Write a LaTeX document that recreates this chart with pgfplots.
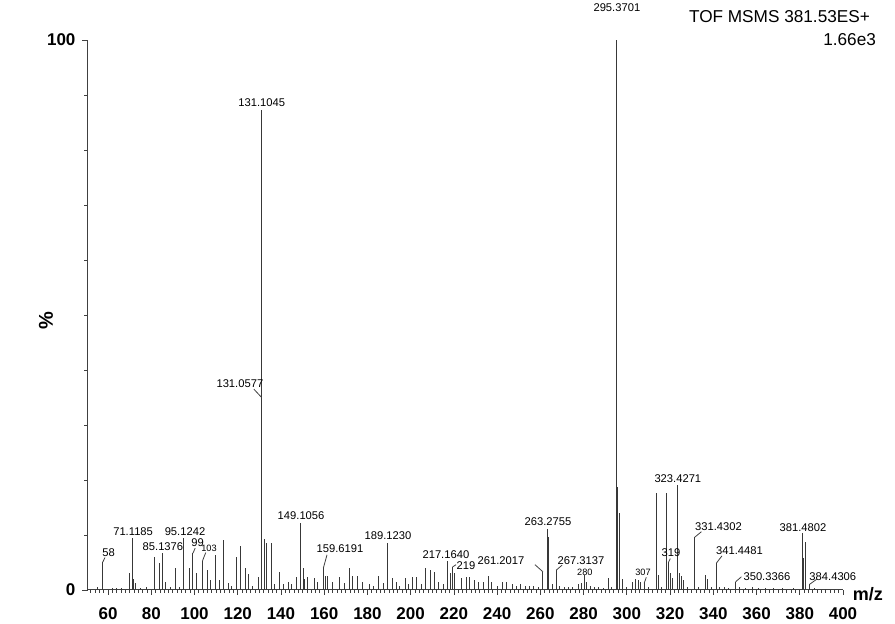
\documentclass[border=0pt]{standalone}
\usepackage{fontspec}
\setmainfont{Liberation Sans}
\usepackage{pgfplots}
\pgfplotsset{compat=1.18}
\newcommand{\lbl}{\fontsize{5.6}{6}\selectfont}
\newcommand{\slbl}{\fontsize{4.6}{5}\selectfont}
\begin{document}
\begin{tikzpicture}
\useasboundingbox (0,0) rectangle (447.5pt,312pt);
\begin{axis}[
  at={(43.75pt,17pt)}, anchor=south west,
  scale only axis, width=377.75pt, height=275pt,
  xmin=50.5, xmax=400, ymin=0, ymax=100,
  axis x line*=bottom, axis y line*=left,
  axis line style={black!75, line width=0.5pt, -},
  xtick={60,80,...,400}, minor xtick={52,54,...,400},
  ytick={0,100}, minor ytick={10,20,...,90},
  tick align=outside,
  major tick length=2.5pt, minor tick length=1.5pt,
  tick style={black!75, line width=0.4pt},
  /pgf/number format/assume math mode=true,
  ticklabel style={font=\fontsize{8.5}{9}\selectfont\bfseries},
  xticklabel style={yshift=-3pt},
  clip=false,
]
\addplot+[ycomb, no marks, black!78, line width=0.5pt] table {
x y
55 0.5
57.6 5.1
62 0.4
64 0.3
66 0.4
69.7 3.0
71.12 9.5
71.8 2.0
72.5 1.3
75 0.4
78 0.5
81.7 6.0
83.6 4.9
85.14 6.8
86.8 1.5
89 0.5
91.4 4.0
93 0.6
95.12 9.5
97.5 4.0
99.3 6.7
101 3.1
103.7 5.3
105.8 3.6
107.6 1.8
109.5 6.4
111.4 1.8
113.2 9.1
115.5 1.2
117 0.8
119.2 6.0
121.5 8.0
123.4 4.0
125.2 2.9
127 0.8
129.4 2.3
131.06 35
131.10 87.3
132.4 9.3
133.3 8.5
135.4 8.5
137 1.0
139.1 3.3
141 1.0
143.3 1.5
145 1.0
147.4 2.3
149.11 12.2
150.2 4.0
151 2.0
152.5 2.4
155.3 2.2
157 1.5
159.62 4.0
160.5 2.5
161.3 2.5
164 1.5
167.3 2.4
169.2 1.2
171.5 4.0
173.3 2.5
175.6 2.5
177.5 1.5
181 1.0
183 0.8
185.3 2.5
187.2 1.2
189.12 8.5
191.4 2.2
193.3 1.5
195 0.8
197.4 2.2
199 1.0
201 2.4
202.9 2.4
205 1.0
207 4.0
209.4 3.6
211.2 3.3
213 1.5
215 1.0
217.16 5.3
218.6 3.0
219.4 4.2
220.5 3.0
223.7 2.2
225.6 2.4
227.4 2.4
229.3 1.8
231.6 1.5
233.5 1.5
235.8 2.5
237.5 1.5
240 0.8
242.7 1.5
244.5 1.5
247 1.0
249 0.8
251 1.0
253 0.8
255 0.8
257 0.8
259 0.6
261.2 3.3
263.28 11.0
263.9 9.6
265.5 1.0
267.31 3.6
269 0.8
271 0.6
273 0.5
275 0.6
277.5 1.0
279 1.2
280.4 2.7
281.5 1.5
283 0.8
285 0.5
287 0.6
289 0.4
291.7 2.2
293 0.5
295.37 100
295.9 18.7
296.8 14.0
298 2.0
300 0.5
302.8 1.5
304 2.0
305.2 1.8
306.5 1.5
308 1.2
310 0.6
313.9 17.6
314.6 2.7
316 0.6
318.5 17.6
319.2 5.0
320.2 3.0
321.3 2.2
323.43 19.1
324.2 3.0
325.2 2.5
326.3 1.8
328 0.6
331.43 9.6
333 0.5
336.6 2.7
337.5 2.0
339 0.6
341.45 4.9
343 0.6
345 0.5
347 0.4
350.34 1.5
352 0.5
355 0.4
358 0.5
361 0.4
364 0.3
368 0.4
372 0.3
377 0.3
381.48 10.4
381.9 5.8
382.8 8.7
384.43 1.0
387 0.3
392 0.2
};
% peak labels
\node[font=\lbl] at (axis cs:295.4,105.8) {295.3701};
\node[font=\lbl] at (axis cs:131.1,88.6) {131.1045};
\node[font=\lbl] at (axis cs:121,37.6) {131.0577};
\node[font=\lbl] at (axis cs:149.3,13.5) {149.1056};
\node[font=\lbl] at (axis cs:167.3,7.6) {159.6191};
\node[font=\lbl] at (axis cs:189.5,9.8) {189.1230};
\node[font=\lbl] at (axis cs:216.3,6.4) {217.1640};
\node[font=\lbl] at (axis cs:225.6,4.5) {219};
\node[font=\lbl] at (axis cs:263.5,12.5) {263.2755};
\node[font=\lbl] at (axis cs:241.8,5.3) {261.2017};
\node[font=\lbl] at (axis cs:278.8,5.3) {267.3137};
\node[font=\slbl] at (axis cs:280.6,3.3) {280};
\node[font=\slbl] at (axis cs:307.5,3.3) {307};
\node[font=\lbl] at (axis cs:320.4,6.7) {319};
\node[font=\lbl] at (axis cs:323.6,20.2) {323.4271};
\node[font=\lbl] at (axis cs:342.4,11.6) {331.4302};
\node[font=\lbl] at (axis cs:352.1,7.1) {341.4481};
\node[font=\lbl] at (axis cs:364.8,2.4) {350.3366};
\node[font=\lbl] at (axis cs:381.5,11.3) {381.4802};
\node[font=\lbl] at (axis cs:395.3,2.5) {384.4306};
\node[font=\lbl] at (axis cs:71.6,10.6) {71.1185};
\node[font=\lbl] at (axis cs:60.3,6.7) {58};
\node[font=\lbl] at (axis cs:85.4,7.9) {85.1376};
\node[font=\lbl] at (axis cs:95.6,10.6) {95.1242};
\node[font=\lbl] at (axis cs:101.4,8.6) {99};
\node[font=\slbl] at (axis cs:106.7,7.5) {103};
% leader lines
\begin{scope}[black!75, line width=0.4pt]
\draw (axis cs:127.5,36.5) -- (axis cs:131.06,35);
\draw (axis cs:58.6,5.9) -- (axis cs:57.6,5.1);
\draw (axis cs:100.3,7.6) -- (axis cs:99.3,6.7);
\draw (axis cs:105.2,6.8) -- (axis cs:103.7,5.3);
\draw (axis cs:161.3,6.4) -- (axis cs:159.62,4.0);
\draw (axis cs:221,4.6) -- (axis cs:219.4,4.2);
\draw (axis cs:257.5,4.6) -- (axis cs:261.2,3.3);
\draw (axis cs:270,4.5) -- (axis cs:267.31,3.6);
\draw (axis cs:309,2.3) -- (axis cs:308,1.2);
\draw (axis cs:320.1,5.7) -- (axis cs:319.2,5.0);
\draw (axis cs:334.5,10.6) -- (axis cs:331.43,9.6);
\draw (axis cs:344,6.2) -- (axis cs:341.45,4.9);
\draw (axis cs:353,2.4) -- (axis cs:350.34,1.5);
\draw (axis cs:388,2.0) -- (axis cs:384.43,1.0);
\end{scope}
% other texts
\node[font=\fontsize{10}{11}\selectfont\bfseries, rotate=90] at (axis cs:31.3,49) {\%};
\node[font=\fontsize{9}{10}\selectfont\bfseries] at (axis cs:411.5,-0.7) {m/z};
\node[font=\fontsize{8.6}{9}\selectfont, anchor=east] at (axis cs:415.7,104.2) {TOF MSMS 381.53ES+};
\node[font=\fontsize{8.6}{9}\selectfont, anchor=east] at (axis cs:418.5,100) {1.66e3};
\end{axis}
\end{tikzpicture}
\end{document}
